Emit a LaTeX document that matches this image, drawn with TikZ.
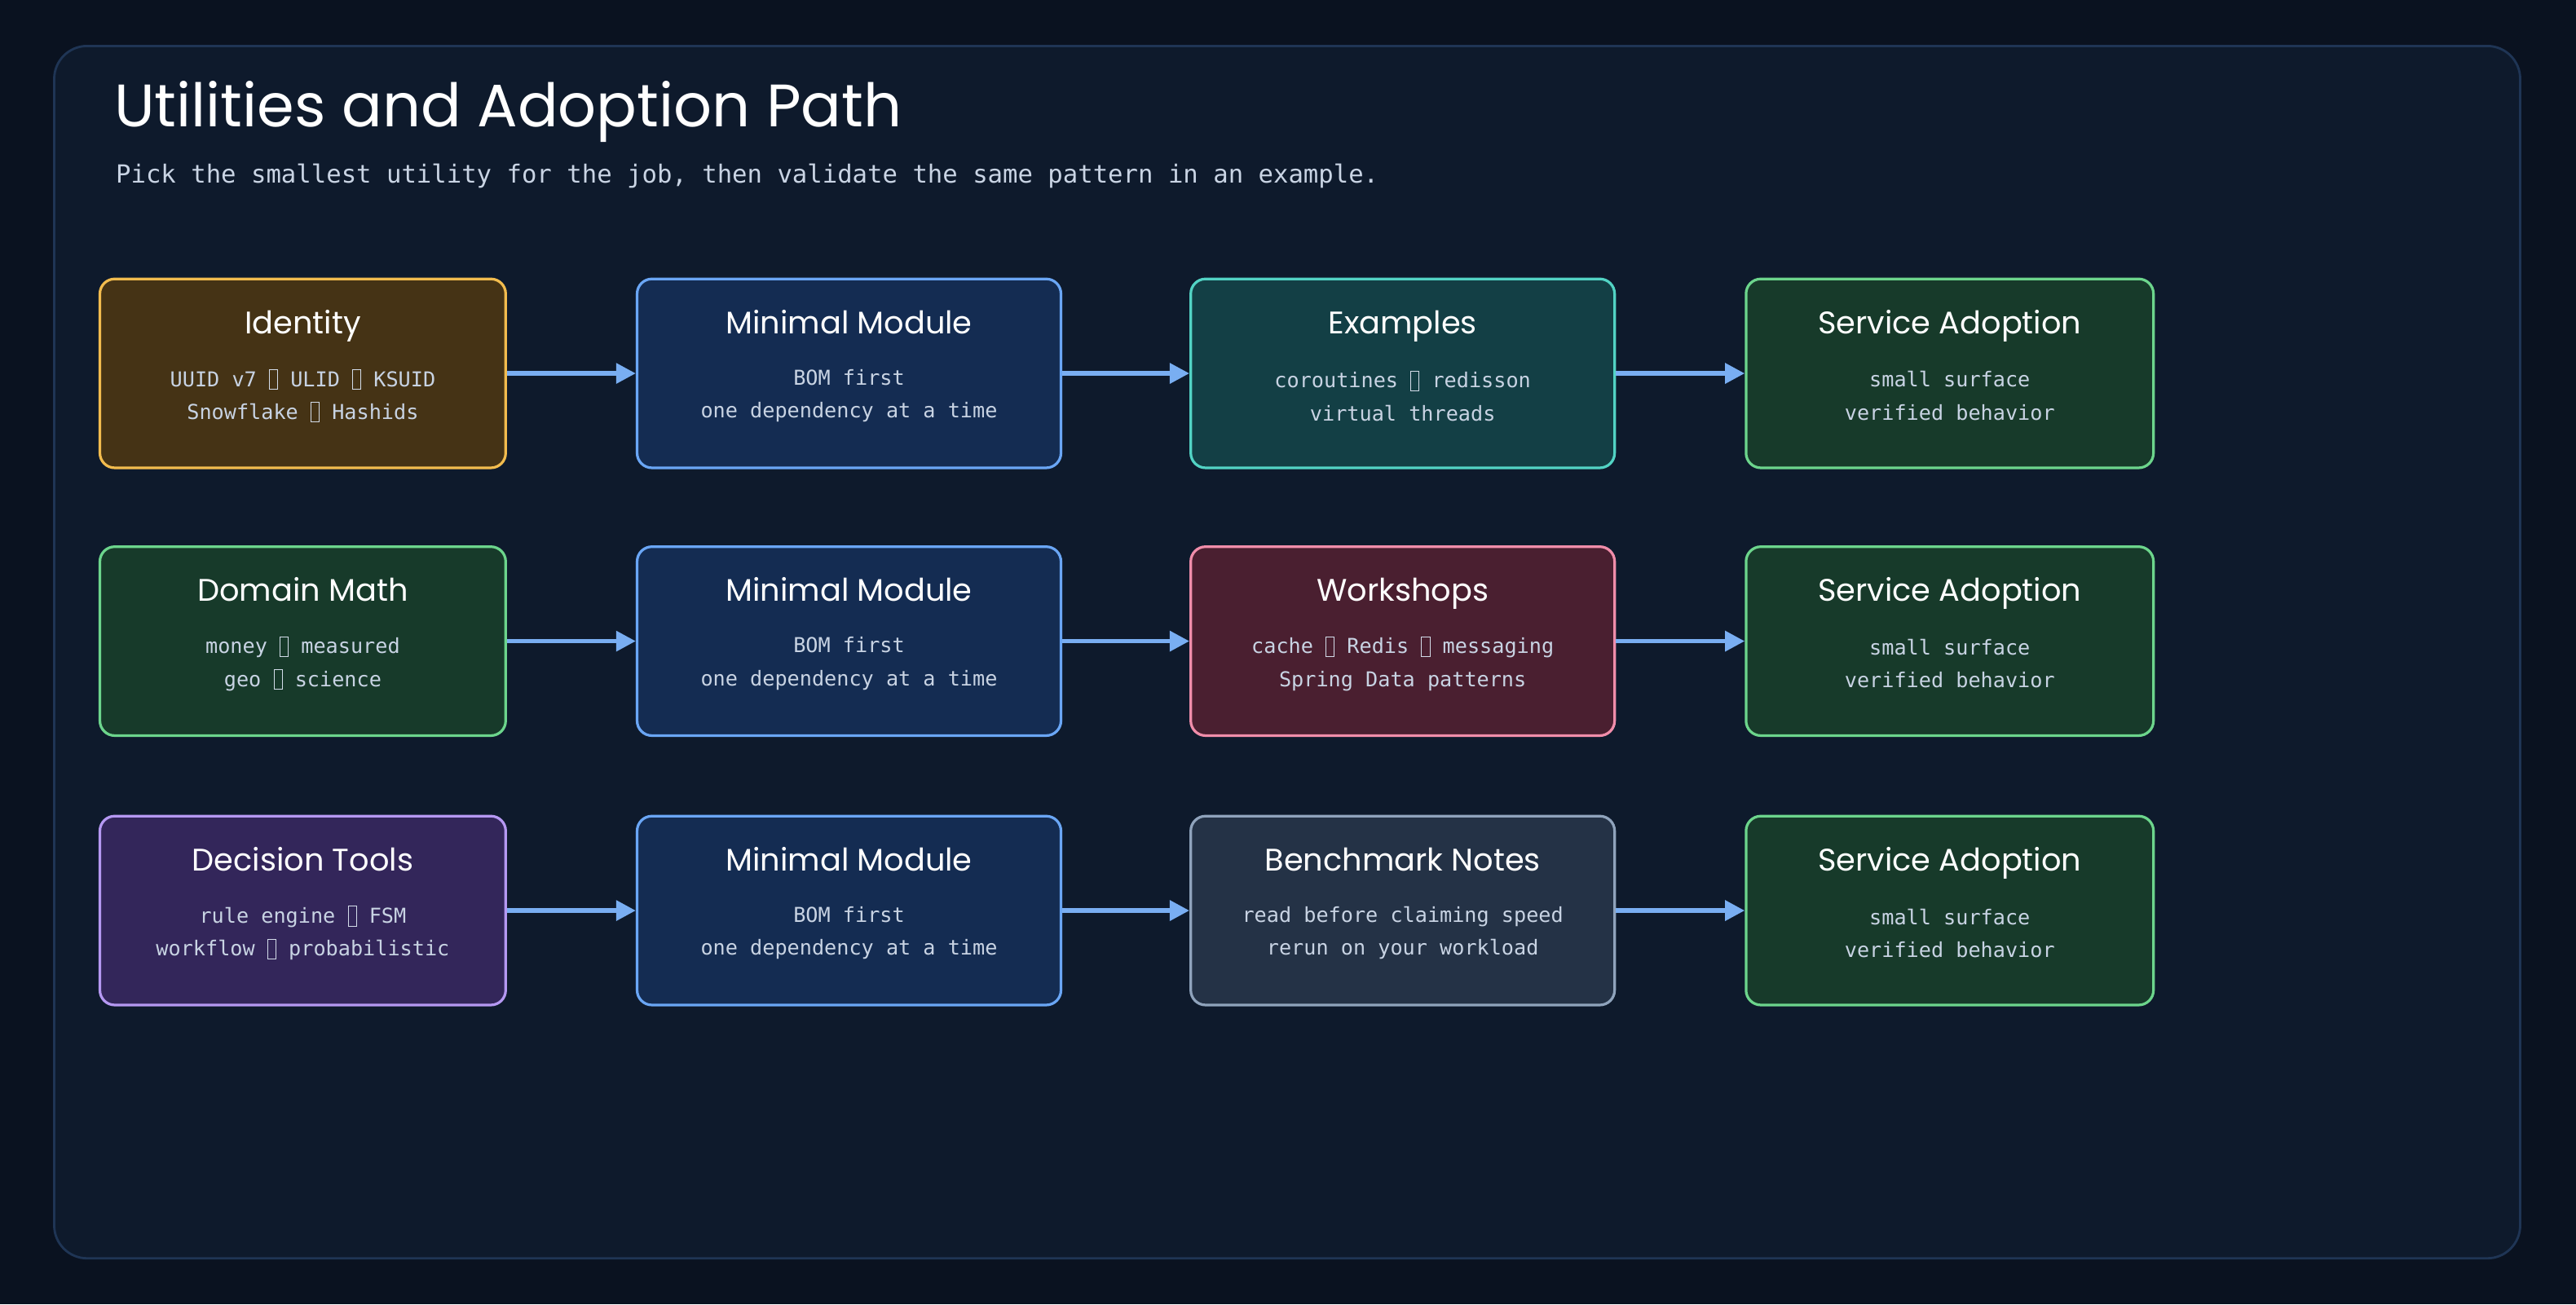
\documentclass[tikz,border=0pt]{standalone}
\usepackage{fontspec}
\setmainfont{DejaVu Sans Mono}
\newfontfamily\hand{Poppins}
\usetikzlibrary{arrows.meta}
\definecolor{bgout}{HTML}{0A1220}
\definecolor{panel}{HTML}{0E1A2C}
\definecolor{panelb}{HTML}{1F3555}
\definecolor{arr}{HTML}{79AEF2}
\definecolor{bodyt}{HTML}{C8D3E3}
\definecolor{subt}{HTML}{C9D4E4}
\definecolor{yF}{HTML}{453315}\definecolor{yB}{HTML}{F2BC4E}
\definecolor{bF}{HTML}{142C52}\definecolor{bB}{HTML}{6AA6F5}
\definecolor{tF}{HTML}{133F45}\definecolor{tB}{HTML}{52D3C4}
\definecolor{gF}{HTML}{173A2A}\definecolor{gB}{HTML}{6CD58C}
\definecolor{rF}{HTML}{4A1F30}\definecolor{rB}{HTML}{F08DAA}
\definecolor{sF}{HTML}{243246}\definecolor{sB}{HTML}{8FA3BC}
\definecolor{pF}{HTML}{33265A}\definecolor{pB}{HTML}{B598F2}
\newcommand{\dd}{\ \raisebox{-2pt}{\tikz[x=1pt,y=1pt]\draw[bodyt!80,line width=0.5pt] (0,0) rectangle (5,12);}\ }
\begin{document}
\begin{tikzpicture}[x=1pt,y=-1pt,
  box/.style={draw=#1B,fill=#1F,line width=1.6pt,rounded corners=9pt,minimum height=115pt,anchor=north west,inner sep=0pt},
  ttl/.style={text=white,font=\hand\fontsize{19}{22}\selectfont,anchor=base,inner sep=0pt},
  bdy/.style={text=bodyt,font=\fontsize{12.5}{20}\selectfont,align=center,anchor=center},
  con/.style={draw=arr,line width=2.8pt,-{Triangle[length=12pt,width=12pt]}}]
\useasboundingbox (0,0) rectangle (1568,794);
\fill[bgout] (0,0) rectangle (1568,794);
\draw[panelb,fill=panel,line width=1.4pt,rounded corners=20pt] (33,28) rectangle (1534,766);
\node[anchor=west,text=white,font=\hand\fontsize{36.5}{42}\selectfont] (title) at (66,68) {Utilities and Adoption Path};
\node[anchor=west,text=subt,font=\fontsize{15.2}{18}\selectfont] (sub) at (67,107) {Pick the smallest utility for the job, then validate the same pattern in an example.};
\newcommand{\mybox}[7]{%
  \node[box=#2,minimum width=#5pt] (#1) at (#3,#4) {};
  \node[ttl] (#1t) at ([yshift=-34pt]#1.north) {#6};
  \node[bdy] (#1b) at ([yshift=-72pt]#1.north) {#7};}
% row 1
\mybox{a1}{y}{60}{169}{247}{Identity}{UUID v7\dd ULID\dd KSUID\\Snowflake\dd Hashids}
\mybox{b1}{b}{387}{169}{258}{Minimal Module}{BOM first\\one dependency at a time}
\mybox{c1}{t}{724}{169}{258}{Examples}{coroutines\dd redisson\\virtual threads}
\mybox{d1}{g}{1062}{169}{248}{Service Adoption}{small surface\\verified behavior}
% row 2
\mybox{a2}{g}{60}{332}{247}{Domain Math}{money\dd measured\\geo\dd science}
\mybox{b2}{b}{387}{332}{258}{Minimal Module}{BOM first\\one dependency at a time}
\mybox{c2}{r}{724}{332}{258}{Workshops}{cache\dd Redis\dd messaging\\Spring Data patterns}
\mybox{d2}{g}{1062}{332}{248}{Service Adoption}{small surface\\verified behavior}
% row 3
\mybox{a3}{p}{60}{496}{247}{Decision Tools}{rule engine\dd FSM\\workflow\dd probabilistic}
\mybox{b3}{b}{387}{496}{258}{Minimal Module}{BOM first\\one dependency at a time}
\mybox{c3}{s}{724}{496}{258}{Benchmark Notes}{read before claiming speed\\rerun on your workload}
\mybox{d3}{g}{1062}{496}{248}{Service Adoption}{small surface\\verified behavior}
\foreach \r in {1,2,3}{
  \draw[con] (a\r.east) -- (b\r.west);
  \draw[con] (b\r.east) -- (c\r.west);
  \draw[con] (c\r.east) -- (d\r.west);}
\end{tikzpicture}
\end{document}
